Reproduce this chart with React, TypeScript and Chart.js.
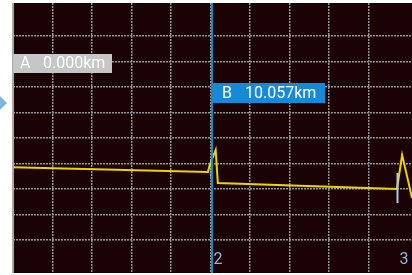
import React, { useEffect, useRef } from "react";
import { Chart, registerables } from "chart.js";

Chart.register(...registerables);

// Trace: distance (km) vs level (dB)
const distanceKm = [0, 9.87, 9.95, 10.26, 10.37, 16.05, 19.44, 19.7, 20.05, 20.2];
const levelDb = [19.25, 18.33, 19.6, 22.65, 16.17, 15.44, 14.99, 21.66, 15.8, 13.2];

// Cursors
const cursorNames = ["A", "B"];
const cursorKm = [0, 10.057];
const cursorLabels = ["0.000km", "10.057km"];

// Events
const eventNames = ["2", "3"];
const eventKm = [10.0, 19.42];
const eventTopDb = [20.88, 18.13];
const eventBottomDb = [17.15, 12.24];

const X_MIN = 0;
const X_MAX = 20.2;
const Y_MIN = -1.5;
const Y_MAX = 51.5;

const overlayPlugin = {
  id: "otdrOverlay",
  beforeDraw(chart: any) {
    const { ctx, chartArea } = chart;
    ctx.save();
    ctx.fillStyle = "#1b0305";
    ctx.fillRect(chartArea.left, chartArea.top, chartArea.right - chartArea.left, chartArea.bottom - chartArea.top);
    ctx.restore();
  },
  afterDatasetsDraw(chart: any) {
    const { ctx, chartArea, scales } = chart;
    const xs = scales.x;
    const ys = scales.y;
    ctx.save();
    // event markers
    eventKm.forEach((km, i) => {
      const x = Math.round(xs.getPixelForValue(km)) + 0.5;
      ctx.strokeStyle = "#a9cfe6";
      ctx.lineWidth = 2;
      ctx.beginPath();
      ctx.moveTo(x, ys.getPixelForValue(eventTopDb[i]));
      ctx.lineTo(x, ys.getPixelForValue(eventBottomDb[i]));
      ctx.stroke();
      ctx.fillStyle = "#8fb7d6";
      ctx.font = "16px Roboto";
      ctx.textAlign = "left";
      ctx.textBaseline = "alphabetic";
      ctx.fillText(eventNames[i], x + 2, chartArea.bottom - 9);
    });
    // cursor A line (left edge)
    const ax = xs.getPixelForValue(cursorKm[0]);
    ctx.fillStyle = "#a8a8a8";
    ctx.fillRect(ax - 1, chartArea.top, 2, chartArea.bottom - chartArea.top);
    // cursor B line
    const bx = xs.getPixelForValue(cursorKm[1]);
    ctx.fillStyle = "#1f86c6";
    ctx.fillRect(Math.round(bx) - 1, chartArea.top, 2, chartArea.bottom - chartArea.top);

    // cursor labels
    ctx.font = "16px Roboto";
    ctx.textBaseline = "middle";
    // A
    ctx.fillStyle = "#c6c6c6";
    ctx.fillRect(ax, 54, 99, 19);
    ctx.fillStyle = "#ffffff";
    ctx.fillText(cursorNames[0], ax + 7, 64);
    ctx.fillText(cursorLabels[0], ax + 30, 64);
    // B
    ctx.fillStyle = "#168ad6";
    ctx.fillRect(Math.round(bx) + 1, 83, 112, 20);
    ctx.fillStyle = "#ffffff";
    ctx.fillText(cursorNames[1], Math.round(bx) + 10, 93.5);
    ctx.fillText(cursorLabels[1], Math.round(bx) + 33, 93.5);

    // left arrow
    ctx.fillStyle = "#7db6de";
    ctx.beginPath();
    ctx.moveTo(0, 96);
    ctx.lineTo(7, 103);
    ctx.lineTo(0, 110);
    ctx.closePath();
    ctx.fill();
    ctx.restore();
  },
};

export default function App() {
  const ref = useRef<HTMLCanvasElement>(null);
  useEffect(() => {
    if (!ref.current) return;
    const chart = new Chart(ref.current, {
      type: "line",
      data: {
        datasets: [
          {
            data: distanceKm.map((d, i) => ({ x: d, y: levelDb[i] })),
            borderColor: "#f0d400",
            borderWidth: 2,
            pointRadius: 0,
            tension: 0,
            fill: false,
          },
        ],
      },
      options: {
        animation: false,
        responsive: false,
        devicePixelRatio: 1,
        layout: { padding: { left: 13, top: 3, right: 0, bottom: 2 } },
        plugins: { legend: { display: false }, tooltip: { enabled: false } },
        scales: {
          x: {
            type: "linear",
            min: X_MIN,
            max: X_MAX,
            afterBuildTicks: (axis: any) => {
              axis.ticks = axis.ticks.filter(
                (t: any) => t.value > 0 && Math.abs(t.value / 2 - Math.round(t.value / 2)) < 1e-6
              );
            },
            ticks: { display: false, stepSize: 2 },
            border: { display: false, dash: [2, 1] },
            grid: { color: "#949494", lineWidth: 1.5, drawTicks: false },
          },
          y: {
            type: "linear",
            min: Y_MIN,
            max: Y_MAX,
            afterBuildTicks: (axis: any) => {
              axis.ticks = axis.ticks.filter(
                (t: any) => t.value >= 0 && Math.abs(t.value / 5 - Math.round(t.value / 5)) < 1e-6
              );
            },
            ticks: { display: false, stepSize: 5 },
            border: { display: false, dash: [2, 1] },
            grid: { color: "#949494", lineWidth: 1.5, drawTicks: false },
          },
        },
      } as any,
      plugins: [overlayPlugin],
    });
    return () => chart.destroy();
  }, []);
  return (
    <div style={{ position: "fixed", left: 0, top: 0, width: 412, height: 275, background: "#ffffff" }}>
      <canvas ref={ref} width={412} height={275} style={{ width: 412, height: 275 }} />
    </div>
  );
}
